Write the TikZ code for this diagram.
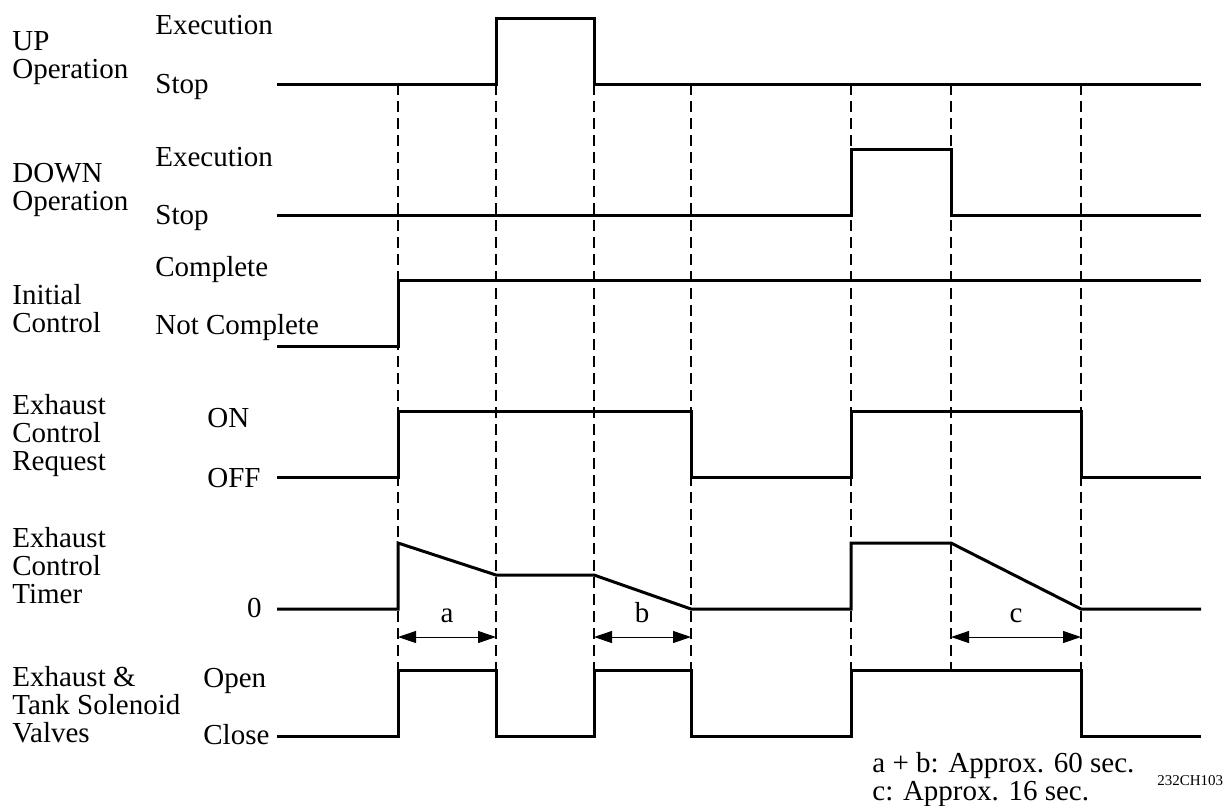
\documentclass[tikz,border=0pt]{standalone}
\usepackage{fontspec}
\setmainfont{Liberation Serif}
\usetikzlibrary{arrows.meta}

\tikzset{
  signal/.style={line width=1.5pt, line join=miter},
  guide/.style={line width=0.7pt, dash pattern=on 5.5pt off 3pt},
  span/.style={line width=0.5pt, {Triangle[length=9pt,width=6pt]}-{Triangle[length=9pt,width=6pt]}},
  lbl/.style={anchor=base west, inner sep=0pt, align=left, font=\fontsize{14.5pt}{14pt}\selectfont},
}

\begin{document}
\begin{tikzpicture}[x=0.5pt, y=-0.5pt]
	\useasboundingbox (0,0) rectangle (1226,805);

	% signal names (base = last line)
	\node[lbl] (upname) at (12,78) {UP\\Operation};
	\node[lbl] (dnname) at (12,210) {DOWN\\Operation};
	\node[lbl] (icname) at (12,332) {Initial\\Control};
	\node[lbl] (rqname) at (12,470) {Exhaust\\Control\\Request};
	\node[lbl] (tmname) at (12,603) {Exhaust\\Control\\Timer};
	\node[lbl] (vlname) at (12,742) {Exhaust \&\\Tank Solenoid\\Valves};

	% states
	\node[lbl] (upexec) at (155,34) {Execution};
	\node[lbl] (upstop) at (155,93) {Stop};
	\node[lbl] (dnexec) at (155,166) {Execution};
	\node[lbl] (dnstop) at (155,224) {Stop};
	\node[lbl] (iccomp) at (155,276) {Complete};
	\node[lbl] (icnot) at (155,334) {Not Complete};
	\node[lbl] (rqon) at (207,427) {ON};
	\node[lbl] (rqoff) at (207,487) {OFF};
	\node[lbl, anchor=base east] (tmzero) at (262,617) {0};
	\node[lbl] (vlopen) at (203,687) {Open};
	\node[lbl] (vlclose) at (203,744) {Close};

	% time marks
	\foreach \t in {398,496,594,691,851,951,1081}
		\draw[guide] (\t,84) -- (\t,670);

	% waveforms
	\draw[signal] (277,84) -- (496,84) -- (496,18) -- (594,18) -- (594,84) -- (1201,84);
	\draw[signal] (277,215) -- (851,215) -- (851,149) -- (951,149) -- (951,215) -- (1201,215);
	\draw[signal] (277,346) -- (398,346) -- (398,280) -- (1201,280);
	\draw[signal] (277,477) -- (398,477) -- (398,411) -- (691,411) -- (691,477)
		-- (851,477) -- (851,411) -- (1081,411) -- (1081,477) -- (1201,477);
	\draw[signal] (277,609) -- (398,609) -- (398,543) -- (496,575) -- (594,575) -- (691,609)
		-- (851,609) -- (851,543) -- (951,543) -- (1081,609) -- (1201,609);
	\draw[signal] (277,736) -- (398,736) -- (398,670) -- (496,670) -- (496,736) -- (594,736)
		-- (594,670) -- (691,670) -- (691,736) -- (851,736) -- (851,670) -- (1081,670)
		-- (1081,736) -- (1201,736);

	% spans
	\coordinate (a1) at (398,637);
	\coordinate (a2) at (496,637);
	\coordinate (b1) at (594,637);
	\coordinate (b2) at (691,637);
	\coordinate (c1) at (951,637);
	\coordinate (c2) at (1081,637);
	\draw[span] (a1) -- (a2);
	\draw[span] (b1) -- (b2);
	\draw[span] (c1) -- (c2);
	\node[lbl, anchor=base] (alabel) at (447,622) {a};
	\node[lbl, anchor=base] (blabel) at (642,622) {b};
	\node[lbl, anchor=base] (clabel) at (1016,622) {c};

	% notes
	\node[lbl] (note1) at (872,772) {a + b: Approx. 60 sec.};
	\node[lbl] (note2) at (872,800) {c: Approx. 16 sec.};
	\node[lbl, font=\fontsize{7.5pt}{8pt}\selectfont] (figid) at (1157,785) {232CH103};

\end{tikzpicture}
\end{document}
